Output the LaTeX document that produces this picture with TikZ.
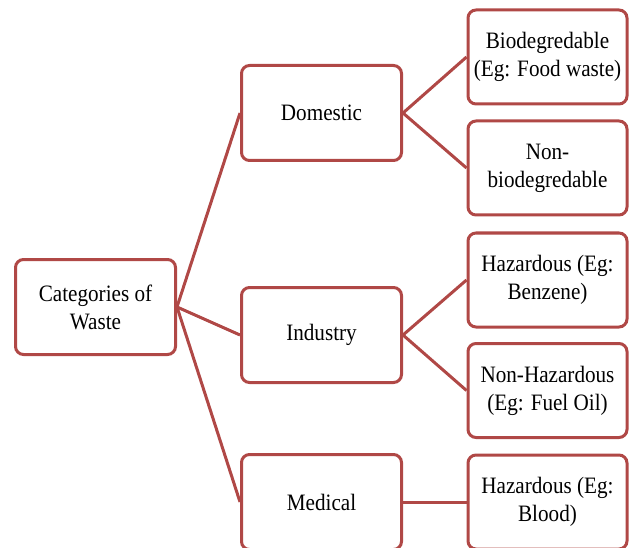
\documentclass[tikz,border=0pt]{standalone}
\usepackage{fontspec}
\setmainfont[FakeStretch=0.9]{Liberation Serif}
\definecolor{brick}{RGB}{176,72,70}
\begin{document}
\begin{tikzpicture}[x=1pt,y=-1pt,
  box/.style={draw=brick, line width=3pt, rounded corners=8pt, fill=white,
    minimum width=160pt, minimum height=95pt, inner sep=2pt, align=center,
    font=\fontsize{23.5}{28}\selectfont},
  rbox/.style={box, minimum width=159pt, minimum height=94pt},
  link/.style={draw=brick, line width=3pt}]
\useasboundingbox (0,0) rectangle (629,548);
\node[box] (cat) at (95.5,307) {Categories of\\Waste};
\node[box] (dom) at (321.5,113) {Domestic};
\node[box] (ind) at (321.5,335) {Industry};
\node[box] (med) at (321.5,502) {Medical};
\node[rbox] (bio) at (547.5,57) {Biodegredable\\(Eg: Food waste)};
\node[rbox] (nbio) at (547.5,168) {Non-\\biodegredable};
\node[rbox] (haz) at (547.5,280) {Hazardous (Eg:\\Benzene)};
\node[rbox] (nhaz) at (547.5,390.5) {Non-Hazardous\\(Eg: Fuel Oil)};
\node[rbox] (hazb) at (547.5,502) {Hazardous (Eg:\\Blood)};
\draw[link] (cat.east) -- (dom.west);
\draw[link] (cat.east) -- (ind.west);
\draw[link] (cat.east) -- (med.west);
\draw[link] (dom.east) -- (bio.west);
\draw[link] (dom.east) -- (nbio.west);
\draw[link] (ind.east) -- (haz.west);
\draw[link] (ind.east) -- (nhaz.west);
\draw[link] (med.east) -- (hazb.west);
\end{tikzpicture}
\end{document}
